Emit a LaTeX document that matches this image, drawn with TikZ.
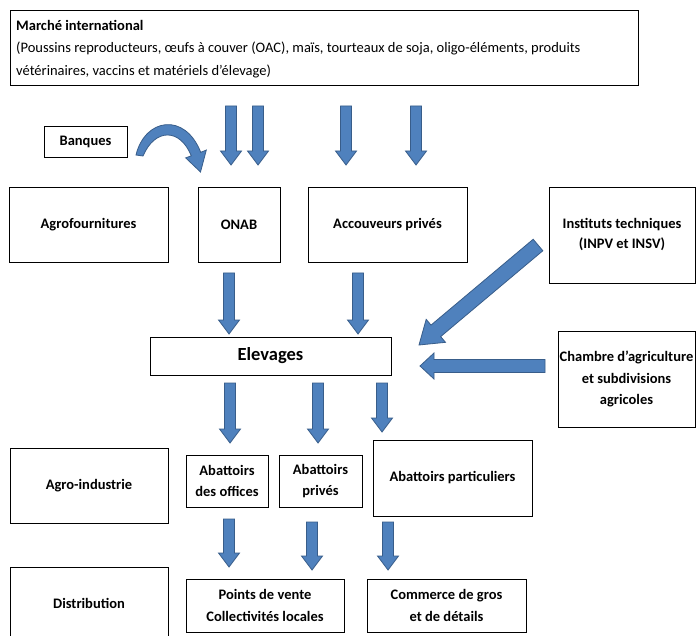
\documentclass[tikz,border=0pt]{standalone}
\usepackage{fontspec}
\setmainfont{Carlito}
\usetikzlibrary{calc}
\definecolor{afill}{HTML}{4F81BD}
\definecolor{aline}{HTML}{385D8A}
\tikzset{
  bx/.style={draw=black, line width=0.9pt, fill=white, inner sep=0pt, align=center,
    font=\fontsize{14.5}{21.5}\selectfont\bfseries},
  blk/.style={fill=afill, draw=aline, line width=0.8pt, line join=miter},
}
% \barrow{start}{tip}{half shaft}{half head}{head length}
\newcommand{\barrow}[5]{%
  \coordinate (hb) at ($(#2)!#5!(#1)$);
  \draw[blk] ($(#1)!#3!90:(#2)$) -- ($(hb)!#3!90:(#2)$) -- ($(hb)!#4!90:(#2)$) -- (#2)
    -- ($(hb)!#4!-90:(#2)$) -- ($(hb)!#3!-90:(#2)$) -- ($(#1)!#3!-90:(#2)$) -- cycle;
}
\begin{document}
\begin{tikzpicture}[x=1pt,y=-1pt]
\useasboundingbox (0,0) rectangle (696,636);
\fill[white] (0,0) rectangle (696,636);

% boxes
\node[bx, minimum width=628pt, minimum height=75pt] (mi) at (324,47.5) {};
\node[anchor=north west, inner sep=0pt, align=left, font=\fontsize{14.5}{22.5}\selectfont] (mitext) at (16,20)
  {\textbf{Marché international}\\(Poussins reproducteurs, œufs à couver (OAC), maïs, tourteaux de soja, oligo-éléments, produits\\vétérinaires, vaccins et matériels d’élevage)};
\node[bx, minimum width=83pt, minimum height=31pt] (banq) at (85.5,141.5) {Banques};
\node[bx, minimum width=159pt, minimum height=75pt] (agro) at (88.5,224.5) {Agrofournitures};
\node[bx, minimum width=82pt, minimum height=75pt] (onab) at (239,224.5) {ONAB};
\node[bx, minimum width=159pt, minimum height=75pt] (acc) at (387.5,224.5) {Accouveurs privés};
\node[bx, minimum width=146pt, minimum height=96pt, font=\fontsize{14.5}{20}\selectfont\bfseries] (inst) at (622,235) {Instituts techniques\\(INPV et INSV)};
\node[bx, minimum width=241pt, minimum height=38pt, font=\fontsize{18.5}{22}\selectfont\bfseries] (elev) at (270.5,356) {Elevages};
\node[bx, minimum width=137pt, minimum height=96pt] (ch) at (626.5,379) {Chambre d’agriculture\\et subdivisions\\agricoles};
\node[bx, minimum width=158pt, minimum height=75pt] (ai) at (89,485.5) {Agro-industrie};
\node[bx, minimum width=82pt, minimum height=52pt] (abo) at (227,481) {Abattoirs\\des offices};
\node[bx, minimum width=83pt, minimum height=52pt] (abp) at (320.5,481) {Abattoirs\\privés};
\node[bx, minimum width=159pt, minimum height=76pt] (abq) at (452.5,478) {Abattoirs particuliers};
\node[bx, minimum width=158pt, minimum height=73pt] (dis) at (89,603.5) {Distribution};
\node[bx, minimum width=158pt, minimum height=53pt] (pv) at (265,605.5) {Points de vente\\Collectivités locales};
\node[bx, minimum width=159pt, minimum height=53pt] (cg) at (446.5,605.5) {Commerce de gros\\et de détails};

% arrow end points
\coordinate (t1s) at (231,106); \coordinate (t1e) at (231,165);
\coordinate (t2s) at (258,106); \coordinate (t2e) at (258,165);
\coordinate (t3s) at (346,106); \coordinate (t3e) at (346,165);
\coordinate (t4s) at (416,106); \coordinate (t4e) at (416,165);
\coordinate (o1s) at (229,273); \coordinate (o1e) at (229,334);
\coordinate (o2s) at (358,273); \coordinate (o2e) at (358,334);
\coordinate (is) at (538,245); \coordinate (ie) at (419,345);
\coordinate (cs) at (545,366); \coordinate (ce) at (420,366);
\coordinate (e1s) at (230,383); \coordinate (e1e) at (230,443);
\coordinate (e2s) at (318,383); \coordinate (e2e) at (318,443);
\coordinate (e3s) at (382,383); \coordinate (e3e) at (382,432);
\coordinate (a1s) at (229,519); \coordinate (a1e) at (229,567);
\coordinate (a2s) at (312,522); \coordinate (a2e) at (312,570);
\coordinate (a3s) at (388,522); \coordinate (a3e) at (388,570);

\barrow{t1s}{t1e}{5.5pt}{10.5pt}{14pt}
\barrow{t2s}{t2e}{5.5pt}{10.5pt}{14pt}
\barrow{t3s}{t3e}{5.5pt}{10.5pt}{14pt}
\barrow{t4s}{t4e}{5.5pt}{10.5pt}{14pt}
\barrow{o1s}{o1e}{5.5pt}{10.5pt}{14pt}
\barrow{o2s}{o2e}{5.5pt}{10.5pt}{14pt}
\barrow{is}{ie}{7.5pt}{15pt}{22pt}
\barrow{cs}{ce}{6.5pt}{13pt}{14pt}
\barrow{e1s}{e1e}{5.5pt}{10.5pt}{14pt}
\barrow{e2s}{e2e}{5.5pt}{10.5pt}{14pt}
\barrow{e3s}{e3e}{5.5pt}{10.5pt}{14pt}
\barrow{a1s}{a1e}{5.5pt}{10.5pt}{14pt}
\barrow{a2s}{a2e}{5.5pt}{10.5pt}{14pt}
\barrow{a3s}{a3e}{5.5pt}{10.5pt}{14pt}

% curved arrow from Banques to ONAB
\draw[blk] (136,155) .. controls (145,118) and (185,112) .. (200.7,152.3)
  -- (206.3,150.1) -- (200.5,172) -- (185.7,157.9) -- (191.3,155.8)
  .. controls (180,128) and (155,128) .. (143,156) -- cycle;
\end{tikzpicture}
\end{document}
